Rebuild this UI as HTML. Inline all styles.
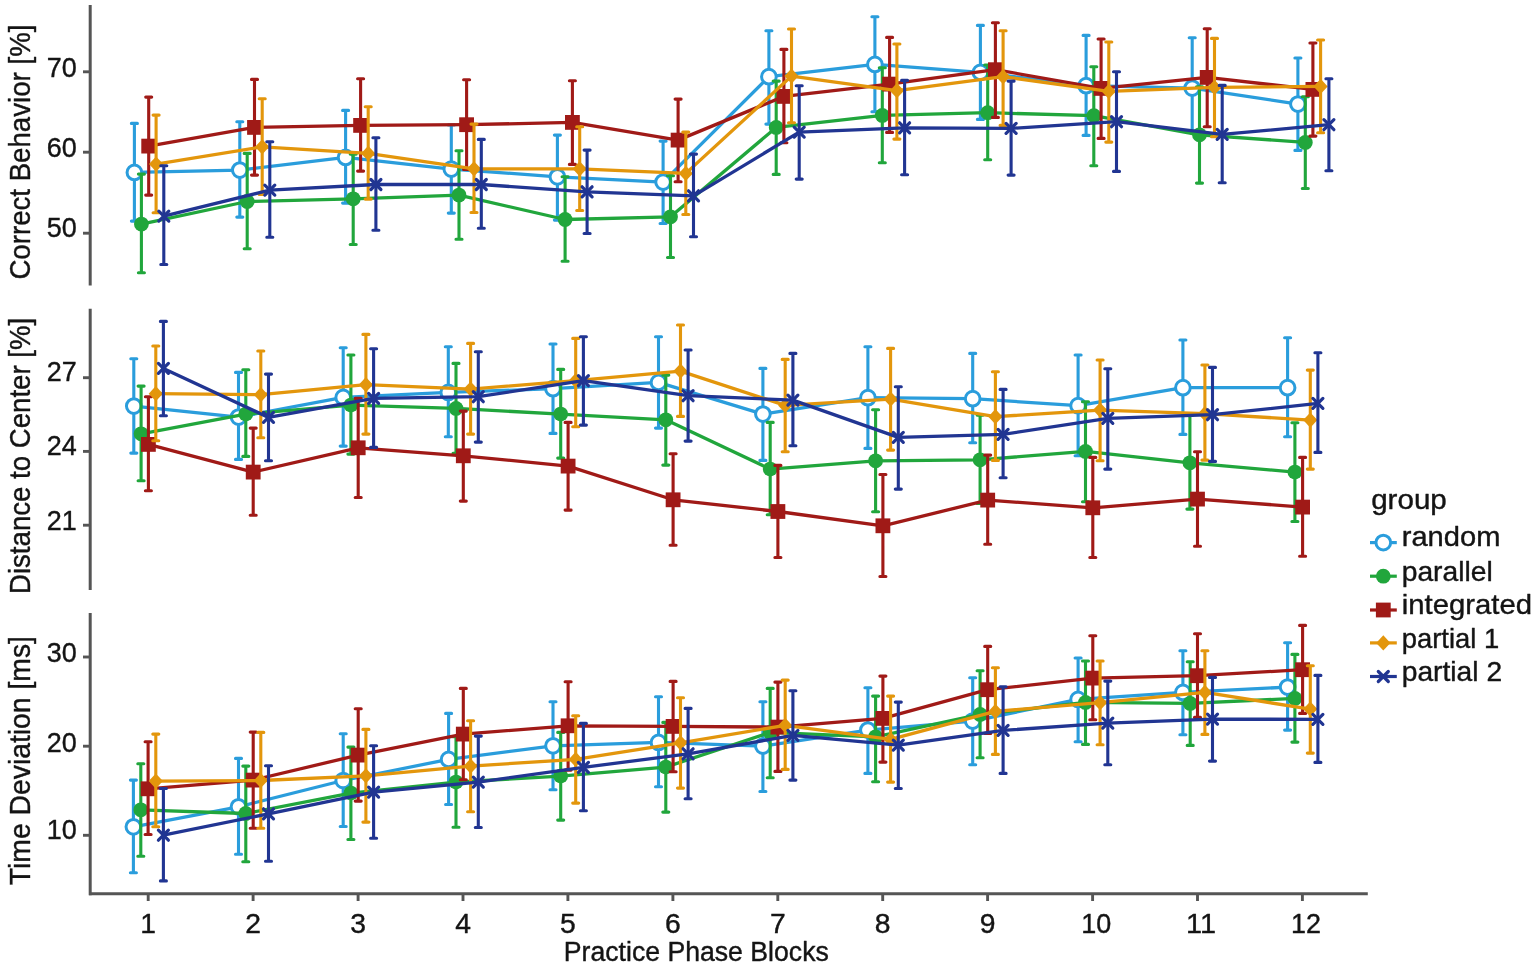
<!DOCTYPE html>
<html lang="en"><head><meta charset="utf-8"><title>Practice Phase Blocks</title>
<style>html,body{margin:0;padding:0;background:#fff}svg{display:block}</style>
</head><body>
<svg width="1535" height="967" viewBox="0 0 1535 967" font-family="'Liberation Sans', sans-serif" fill="#141414">
<style>text{stroke:#141414;stroke-width:0.4px;stroke-linejoin:round}</style>
<rect width="1535" height="967" fill="#fff"/>
<g stroke="#555555" stroke-width="3" fill="none">
<path d="M90.2 5V285.5"/>
<path d="M90.2 308.8V590"/>
<path d="M90.2 613V895.3"/>
<path d="M89 893.8H1367.8"/>
</g>
<g stroke="#555555" stroke-width="2.9" fill="none">
<path d="M83 71.8H90"/>
<path d="M83 152.2H90"/>
<path d="M83 233.2H90"/>
<path d="M83 377.7H90"/>
<path d="M83 451.4H90"/>
<path d="M83 525.2H90"/>
<path d="M83 657.0H90"/>
<path d="M83 746.2H90"/>
<path d="M83 835.3H90"/>
<path d="M148.2 894V901"/>
<path d="M253.1 894V901"/>
<path d="M358.1 894V901"/>
<path d="M463.0 894V901"/>
<path d="M567.9 894V901"/>
<path d="M672.9 894V901"/>
<path d="M777.8 894V901"/>
<path d="M882.7 894V901"/>
<path d="M987.6 894V901"/>
<path d="M1092.6 894V901"/>
<path d="M1197.5 894V901"/>
<path d="M1302.4 894V901"/>
</g>
<g font-size="28.3">
<text x="76.8" y="76.6" text-anchor="end" textLength="30" lengthAdjust="spacingAndGlyphs">70</text>
<text x="76.8" y="157.3" text-anchor="end" textLength="30" lengthAdjust="spacingAndGlyphs">60</text>
<text x="76.8" y="237.1" text-anchor="end" textLength="30" lengthAdjust="spacingAndGlyphs">50</text>
<text x="76.8" y="381.4" text-anchor="end" textLength="30" lengthAdjust="spacingAndGlyphs">27</text>
<text x="76.8" y="455.4" text-anchor="end" textLength="30" lengthAdjust="spacingAndGlyphs">24</text>
<text x="76.8" y="529.6" text-anchor="end" textLength="30" lengthAdjust="spacingAndGlyphs">21</text>
<text x="76.8" y="662.0" text-anchor="end" textLength="30" lengthAdjust="spacingAndGlyphs">30</text>
<text x="76.8" y="752.1" text-anchor="end" textLength="30" lengthAdjust="spacingAndGlyphs">20</text>
<text x="76.8" y="838.8" text-anchor="end" textLength="30" lengthAdjust="spacingAndGlyphs">10</text>
<text x="148.2" y="932.6" text-anchor="middle">1</text>
<text x="253.1" y="932.6" text-anchor="middle">2</text>
<text x="358.1" y="932.6" text-anchor="middle">3</text>
<text x="463.0" y="932.6" text-anchor="middle">4</text>
<text x="567.9" y="932.6" text-anchor="middle">5</text>
<text x="672.9" y="932.6" text-anchor="middle">6</text>
<text x="777.8" y="932.6" text-anchor="middle">7</text>
<text x="882.7" y="932.6" text-anchor="middle">8</text>
<text x="987.6" y="932.6" text-anchor="middle">9</text>
<text x="1096.2" y="932.6" text-anchor="middle" textLength="30" lengthAdjust="spacingAndGlyphs">10</text>
<text x="1201.1" y="932.6" text-anchor="middle" textLength="30" lengthAdjust="spacingAndGlyphs">11</text>
<text x="1306.0" y="932.6" text-anchor="middle" textLength="30" lengthAdjust="spacingAndGlyphs">12</text>
</g>
<text transform="translate(29.6 279.6) rotate(-90)" font-size="30" textLength="255.0" lengthAdjust="spacingAndGlyphs">Correct Behavior [%]</text>
<text transform="translate(29.6 594.0) rotate(-90)" font-size="30" textLength="276.2" lengthAdjust="spacingAndGlyphs">Distance to Center [%]</text>
<text transform="translate(29.6 885.2) rotate(-90)" font-size="30" textLength="249.1" lengthAdjust="spacingAndGlyphs">Time Deviation [ms]</text>
<text x="563.8" y="960.8" font-size="26.8" textLength="265" lengthAdjust="spacingAndGlyphs">Practice Phase Blocks</text>
<path d="M134.4 123.4V221.1M131.4 123.4h6.0M131.4 221.1h6.0M239.8 121.7V217.1M236.8 121.7h6.0M236.8 217.1h6.0M345.6 110.4V203.1M342.6 110.4h6.0M342.6 203.1h6.0M451.3 125.0V213.1M448.3 125.0h6.0M448.3 213.1h6.0M557.4 135.1V220.1M554.4 135.1h6.0M554.4 220.1h6.0M663.1 141.1V223.5M660.1 141.1h6.0M660.1 223.5h6.0M768.9 30.7V124.1M765.9 30.7h6.0M765.9 124.1h6.0M874.9 16.7V111.7M871.9 16.7h6.0M871.9 111.7h6.0M980.4 25.4V119.4M977.4 25.4h6.0M977.4 119.4h6.0M1086.1 35.4V135.4M1083.1 35.4h6.0M1083.1 135.4h6.0M1192.2 37.7V131.8M1189.2 37.7h6.0M1189.2 131.8h6.0M1297.9 58.0V150.4M1294.9 58.0h6.0M1294.9 150.4h6.0" stroke="#2A9DDC" stroke-width="3.1" stroke-linecap="round" fill="none"/>
<polyline points="134.4,172.4 239.8,170.1 345.6,157.4 451.3,169.1 557.4,176.8 663.1,182.1 768.9,76.7 874.9,64.4 980.4,72.4 1086.1,85.7 1192.2,88.1 1297.9,104.1" stroke="#2A9DDC" stroke-width="3.3" stroke-linejoin="round" fill="none"/>
<circle cx="134.4" cy="172.4" r="7.35" fill="#fff" stroke="#2A9DDC" stroke-width="3.0"/>
<circle cx="239.8" cy="170.1" r="7.35" fill="#fff" stroke="#2A9DDC" stroke-width="3.0"/>
<circle cx="345.6" cy="157.4" r="7.35" fill="#fff" stroke="#2A9DDC" stroke-width="3.0"/>
<circle cx="451.3" cy="169.1" r="7.35" fill="#fff" stroke="#2A9DDC" stroke-width="3.0"/>
<circle cx="557.4" cy="176.8" r="7.35" fill="#fff" stroke="#2A9DDC" stroke-width="3.0"/>
<circle cx="663.1" cy="182.1" r="7.35" fill="#fff" stroke="#2A9DDC" stroke-width="3.0"/>
<circle cx="768.9" cy="76.7" r="7.35" fill="#fff" stroke="#2A9DDC" stroke-width="3.0"/>
<circle cx="874.9" cy="64.4" r="7.35" fill="#fff" stroke="#2A9DDC" stroke-width="3.0"/>
<circle cx="980.4" cy="72.4" r="7.35" fill="#fff" stroke="#2A9DDC" stroke-width="3.0"/>
<circle cx="1086.1" cy="85.7" r="7.35" fill="#fff" stroke="#2A9DDC" stroke-width="3.0"/>
<circle cx="1192.2" cy="88.1" r="7.35" fill="#fff" stroke="#2A9DDC" stroke-width="3.0"/>
<circle cx="1297.9" cy="104.1" r="7.35" fill="#fff" stroke="#2A9DDC" stroke-width="3.0"/>
<path d="M141.4 174.1V272.8M138.4 174.1h6.0M138.4 272.8h6.0M247.2 153.4V248.8M244.2 153.4h6.0M244.2 248.8h6.0M353.2 154.1V244.5M350.2 154.1h6.0M350.2 244.5h6.0M459.0 150.8V239.2M456.0 150.8h6.0M456.0 239.2h6.0M565.1 176.8V261.2M562.1 176.8h6.0M562.1 261.2h6.0M670.5 175.8V257.5M667.5 175.8h6.0M667.5 257.5h6.0M776.2 81.1V174.4M773.2 81.1h6.0M773.2 174.4h6.0M882.3 67.7V162.8M879.3 67.7h6.0M879.3 162.8h6.0M987.7 65.0V159.8M984.7 65.0h6.0M984.7 159.8h6.0M1093.8 66.7V165.8M1090.8 66.7h6.0M1090.8 165.8h6.0M1199.5 86.7V183.1M1196.5 86.7h6.0M1196.5 183.1h6.0M1305.3 96.7V188.5M1302.3 96.7h6.0M1302.3 188.5h6.0" stroke="#21A63C" stroke-width="3.1" stroke-linecap="round" fill="none"/>
<polyline points="141.4,224.1 247.2,201.5 353.2,198.8 459.0,195.1 565.1,219.5 670.5,216.8 776.2,127.4 882.3,115.4 987.7,112.7 1093.8,115.7 1199.5,134.8 1305.3,142.4" stroke="#21A63C" stroke-width="3.3" stroke-linejoin="round" fill="none"/>
<circle cx="141.4" cy="224.1" r="7.4" fill="#21A63C"/>
<circle cx="247.2" cy="201.5" r="7.4" fill="#21A63C"/>
<circle cx="353.2" cy="198.8" r="7.4" fill="#21A63C"/>
<circle cx="459.0" cy="195.1" r="7.4" fill="#21A63C"/>
<circle cx="565.1" cy="219.5" r="7.4" fill="#21A63C"/>
<circle cx="670.5" cy="216.8" r="7.4" fill="#21A63C"/>
<circle cx="776.2" cy="127.4" r="7.4" fill="#21A63C"/>
<circle cx="882.3" cy="115.4" r="7.4" fill="#21A63C"/>
<circle cx="987.7" cy="112.7" r="7.4" fill="#21A63C"/>
<circle cx="1093.8" cy="115.7" r="7.4" fill="#21A63C"/>
<circle cx="1199.5" cy="134.8" r="7.4" fill="#21A63C"/>
<circle cx="1305.3" cy="142.4" r="7.4" fill="#21A63C"/>
<path d="M148.7 97.1V195.1M145.7 97.1h6.0M145.7 195.1h6.0M254.5 79.4V175.1M251.5 79.4h6.0M251.5 175.1h6.0M360.6 78.7V171.1M357.6 78.7h6.0M357.6 171.1h6.0M466.6 79.7V169.4M463.6 79.7h6.0M463.6 169.4h6.0M572.4 80.7V164.4M569.4 80.7h6.0M569.4 164.4h6.0M678.1 99.1V181.8M675.1 99.1h6.0M675.1 181.8h6.0M783.9 49.4V142.8M780.9 49.4h6.0M780.9 142.8h6.0M889.6 37.4V132.4M886.6 37.4h6.0M886.6 132.4h6.0M995.4 22.7V117.4M992.4 22.7h6.0M992.4 117.4h6.0M1101.1 39.0V138.4M1098.1 39.0h6.0M1098.1 138.4h6.0M1207.2 28.7V126.8M1204.2 28.7h6.0M1204.2 126.8h6.0M1312.9 43.0V136.1M1309.9 43.0h6.0M1309.9 136.1h6.0" stroke="#A01A17" stroke-width="3.1" stroke-linecap="round" fill="none"/>
<polyline points="148.7,146.1 254.5,127.4 360.6,125.4 466.6,124.7 572.4,122.4 678.1,140.1 783.9,96.4 889.6,84.1 995.4,69.7 1101.1,88.4 1207.2,77.4 1312.9,89.4" stroke="#A01A17" stroke-width="3.3" stroke-linejoin="round" fill="none"/>
<rect x="141.3" y="138.7" width="14.8" height="14.8" fill="#A01A17"/>
<rect x="247.1" y="120.0" width="14.8" height="14.8" fill="#A01A17"/>
<rect x="353.2" y="118.0" width="14.8" height="14.8" fill="#A01A17"/>
<rect x="459.2" y="117.3" width="14.8" height="14.8" fill="#A01A17"/>
<rect x="565.0" y="115.0" width="14.8" height="14.8" fill="#A01A17"/>
<rect x="670.7" y="132.7" width="14.8" height="14.8" fill="#A01A17"/>
<rect x="776.5" y="89.0" width="14.8" height="14.8" fill="#A01A17"/>
<rect x="882.2" y="76.7" width="14.8" height="14.8" fill="#A01A17"/>
<rect x="988.0" y="62.3" width="14.8" height="14.8" fill="#A01A17"/>
<rect x="1093.7" y="81.0" width="14.8" height="14.8" fill="#A01A17"/>
<rect x="1199.8" y="70.0" width="14.8" height="14.8" fill="#A01A17"/>
<rect x="1305.5" y="82.0" width="14.8" height="14.8" fill="#A01A17"/>
<path d="M156.1 115.1V212.8M153.1 115.1h6.0M153.1 212.8h6.0M262.2 98.7V194.5M259.2 98.7h6.0M259.2 194.5h6.0M368.2 106.7V199.1M365.2 106.7h6.0M365.2 199.1h6.0M474.0 124.1V212.5M471.0 124.1h6.0M471.0 212.5h6.0M579.7 126.8V210.5M576.7 126.8h6.0M576.7 210.5h6.0M685.8 132.1V214.5M682.8 132.1h6.0M682.8 214.5h6.0M791.5 29.0V122.7M788.5 29.0h6.0M788.5 122.7h6.0M896.9 44.0V139.1M893.9 44.0h6.0M893.9 139.1h6.0M1003.1 30.7V125.4M1000.1 30.7h6.0M1000.1 125.4h6.0M1108.8 42.0V142.1M1105.8 42.0h6.0M1105.8 142.1h6.0M1214.5 38.4V136.8M1211.5 38.4h6.0M1211.5 136.8h6.0M1320.6 40.0V132.8M1317.6 40.0h6.0M1317.6 132.8h6.0" stroke="#E3960C" stroke-width="3.1" stroke-linecap="round" fill="none"/>
<polyline points="156.1,164.1 262.2,146.8 368.2,153.4 474.0,168.8 579.7,168.8 685.8,173.4 791.5,76.1 896.9,90.7 1003.1,76.7 1108.8,91.4 1214.5,87.4 1320.6,86.4" stroke="#E3960C" stroke-width="3.3" stroke-linejoin="round" fill="none"/>
<path d="M156.1 156.5L163.2 164.1L156.1 171.7L149.0 164.1Z" fill="#E3960C"/>
<path d="M262.2 139.2L269.3 146.8L262.2 154.4L255.1 146.8Z" fill="#E3960C"/>
<path d="M368.2 145.8L375.3 153.4L368.2 161.0L361.1 153.4Z" fill="#E3960C"/>
<path d="M474.0 161.2L481.1 168.8L474.0 176.4L466.9 168.8Z" fill="#E3960C"/>
<path d="M579.7 161.2L586.8 168.8L579.7 176.4L572.6 168.8Z" fill="#E3960C"/>
<path d="M685.8 165.8L692.9 173.4L685.8 181.0L678.7 173.4Z" fill="#E3960C"/>
<path d="M791.5 68.5L798.6 76.1L791.5 83.7L784.4 76.1Z" fill="#E3960C"/>
<path d="M896.9 83.1L904.0 90.7L896.9 98.3L889.8 90.7Z" fill="#E3960C"/>
<path d="M1003.1 69.1L1010.2 76.7L1003.1 84.3L996.0 76.7Z" fill="#E3960C"/>
<path d="M1108.8 83.8L1115.9 91.4L1108.8 99.0L1101.7 91.4Z" fill="#E3960C"/>
<path d="M1214.5 79.8L1221.6 87.4L1214.5 95.0L1207.4 87.4Z" fill="#E3960C"/>
<path d="M1320.6 78.8L1327.7 86.4L1320.6 94.0L1313.5 86.4Z" fill="#E3960C"/>
<path d="M163.8 165.8V264.5M160.8 165.8h6.0M160.8 264.5h6.0M269.8 141.8V237.2M266.8 141.8h6.0M266.8 237.2h6.0M375.9 137.8V230.2M372.9 137.8h6.0M372.9 230.2h6.0M481.3 139.4V228.2M478.3 139.4h6.0M478.3 228.2h6.0M587.1 150.1V233.5M584.1 150.1h6.0M584.1 233.5h6.0M693.5 154.1V236.8M690.5 154.1h6.0M690.5 236.8h6.0M799.2 85.7V179.1M796.2 85.7h6.0M796.2 179.1h6.0M904.6 80.4V174.8M901.6 80.4h6.0M901.6 174.8h6.0M1011.1 81.1V175.1M1008.1 81.1h6.0M1008.1 175.1h6.0M1116.5 71.7V171.4M1113.5 71.7h6.0M1113.5 171.4h6.0M1222.2 85.4V182.8M1219.2 85.4h6.0M1219.2 182.8h6.0M1328.9 78.7V170.8M1325.9 78.7h6.0M1325.9 170.8h6.0" stroke="#213592" stroke-width="3.1" stroke-linecap="round" fill="none"/>
<polyline points="163.8,216.1 269.8,190.1 375.9,184.5 481.3,184.5 587.1,191.8 693.5,195.8 799.2,132.1 904.6,127.8 1011.1,128.4 1116.5,121.7 1222.2,134.4 1328.9,124.7" stroke="#213592" stroke-width="3.3" stroke-linejoin="round" fill="none"/>
<path d="M158.8 211.1L168.8 221.1M158.8 221.1L168.8 211.1" stroke="#213592" stroke-width="3.2" stroke-linecap="round" fill="none"/>
<path d="M264.8 185.1L274.8 195.1M264.8 195.1L274.8 185.1" stroke="#213592" stroke-width="3.2" stroke-linecap="round" fill="none"/>
<path d="M370.9 179.5L380.9 189.5M370.9 189.5L380.9 179.5" stroke="#213592" stroke-width="3.2" stroke-linecap="round" fill="none"/>
<path d="M476.3 179.5L486.3 189.5M476.3 189.5L486.3 179.5" stroke="#213592" stroke-width="3.2" stroke-linecap="round" fill="none"/>
<path d="M582.1 186.8L592.1 196.8M582.1 196.8L592.1 186.8" stroke="#213592" stroke-width="3.2" stroke-linecap="round" fill="none"/>
<path d="M688.5 190.8L698.5 200.8M688.5 200.8L698.5 190.8" stroke="#213592" stroke-width="3.2" stroke-linecap="round" fill="none"/>
<path d="M794.2 127.1L804.2 137.1M794.2 137.1L804.2 127.1" stroke="#213592" stroke-width="3.2" stroke-linecap="round" fill="none"/>
<path d="M899.6 122.8L909.6 132.8M899.6 132.8L909.6 122.8" stroke="#213592" stroke-width="3.2" stroke-linecap="round" fill="none"/>
<path d="M1006.1 123.4L1016.1 133.4M1006.1 133.4L1016.1 123.4" stroke="#213592" stroke-width="3.2" stroke-linecap="round" fill="none"/>
<path d="M1111.5 116.7L1121.5 126.7M1111.5 126.7L1121.5 116.7" stroke="#213592" stroke-width="3.2" stroke-linecap="round" fill="none"/>
<path d="M1217.2 129.4L1227.2 139.4M1217.2 139.4L1227.2 129.4" stroke="#213592" stroke-width="3.2" stroke-linecap="round" fill="none"/>
<path d="M1323.9 119.7L1333.9 129.7M1323.9 129.7L1333.9 119.7" stroke="#213592" stroke-width="3.2" stroke-linecap="round" fill="none"/>
<path d="M133.8 358.7V453.1M130.8 358.7h6.0M130.8 453.1h6.0M238.5 372.4V459.4M235.5 372.4h6.0M235.5 459.4h6.0M343.2 347.7V446.1M340.2 347.7h6.0M340.2 446.1h6.0M448.3 346.7V436.8M445.3 346.7h6.0M445.3 436.8h6.0M553.0 344.0V433.4M550.0 344.0h6.0M550.0 433.4h6.0M658.5 336.7V428.1M655.5 336.7h6.0M655.5 428.1h6.0M762.9 368.4V460.4M759.9 368.4h6.0M759.9 460.4h6.0M867.9 346.7V448.4M864.9 346.7h6.0M864.9 448.4h6.0M972.7 353.4V442.8M969.7 353.4h6.0M969.7 442.8h6.0M1078.1 355.0V455.8M1075.1 355.0h6.0M1075.1 455.8h6.0M1182.9 340.0V434.4M1179.9 340.0h6.0M1179.9 434.4h6.0M1287.6 337.7V436.8M1284.6 337.7h6.0M1284.6 436.8h6.0" stroke="#2A9DDC" stroke-width="3.1" stroke-linecap="round" fill="none"/>
<polyline points="133.8,406.1 238.5,417.1 343.2,397.4 448.3,392.4 553.0,388.7 658.5,382.4 762.9,414.1 867.9,397.7 972.7,398.7 1078.1,405.7 1182.9,387.7 1287.6,387.7" stroke="#2A9DDC" stroke-width="3.3" stroke-linejoin="round" fill="none"/>
<circle cx="133.8" cy="406.1" r="7.35" fill="#fff" stroke="#2A9DDC" stroke-width="3.0"/>
<circle cx="238.5" cy="417.1" r="7.35" fill="#fff" stroke="#2A9DDC" stroke-width="3.0"/>
<circle cx="343.2" cy="397.4" r="7.35" fill="#fff" stroke="#2A9DDC" stroke-width="3.0"/>
<circle cx="448.3" cy="392.4" r="7.35" fill="#fff" stroke="#2A9DDC" stroke-width="3.0"/>
<circle cx="553.0" cy="388.7" r="7.35" fill="#fff" stroke="#2A9DDC" stroke-width="3.0"/>
<circle cx="658.5" cy="382.4" r="7.35" fill="#fff" stroke="#2A9DDC" stroke-width="3.0"/>
<circle cx="762.9" cy="414.1" r="7.35" fill="#fff" stroke="#2A9DDC" stroke-width="3.0"/>
<circle cx="867.9" cy="397.7" r="7.35" fill="#fff" stroke="#2A9DDC" stroke-width="3.0"/>
<circle cx="972.7" cy="398.7" r="7.35" fill="#fff" stroke="#2A9DDC" stroke-width="3.0"/>
<circle cx="1078.1" cy="405.7" r="7.35" fill="#fff" stroke="#2A9DDC" stroke-width="3.0"/>
<circle cx="1182.9" cy="387.7" r="7.35" fill="#fff" stroke="#2A9DDC" stroke-width="3.0"/>
<circle cx="1287.6" cy="387.7" r="7.35" fill="#fff" stroke="#2A9DDC" stroke-width="3.0"/>
<path d="M141.1 386.1V480.8M138.1 386.1h6.0M138.1 480.8h6.0M245.8 369.7V456.4M242.8 369.7h6.0M242.8 456.4h6.0M350.9 355.0V454.1M347.9 355.0h6.0M347.9 454.1h6.0M456.0 363.4V453.4M453.0 363.4h6.0M453.0 453.4h6.0M560.7 369.4V458.1M557.7 369.4h6.0M557.7 458.1h6.0M665.8 375.1V465.1M662.8 375.1h6.0M662.8 465.1h6.0M770.2 422.4V514.8M767.2 422.4h6.0M767.2 514.8h6.0M875.6 409.7V511.8M872.6 409.7h6.0M872.6 511.8h6.0M980.1 415.1V503.5M977.1 415.1h6.0M977.1 503.5h6.0M1085.5 401.7V501.8M1082.5 401.7h6.0M1082.5 501.8h6.0M1189.9 415.1V509.1M1186.9 415.1h6.0M1186.9 509.1h6.0M1294.9 422.8V521.5M1291.9 422.8h6.0M1291.9 521.5h6.0" stroke="#21A63C" stroke-width="3.1" stroke-linecap="round" fill="none"/>
<polyline points="141.1,433.8 245.8,414.1 350.9,405.1 456.0,408.4 560.7,414.1 665.8,419.8 770.2,469.1 875.6,460.8 980.1,459.8 1085.5,451.4 1189.9,462.8 1294.9,472.1" stroke="#21A63C" stroke-width="3.3" stroke-linejoin="round" fill="none"/>
<circle cx="141.1" cy="433.8" r="7.4" fill="#21A63C"/>
<circle cx="245.8" cy="414.1" r="7.4" fill="#21A63C"/>
<circle cx="350.9" cy="405.1" r="7.4" fill="#21A63C"/>
<circle cx="456.0" cy="408.4" r="7.4" fill="#21A63C"/>
<circle cx="560.7" cy="414.1" r="7.4" fill="#21A63C"/>
<circle cx="665.8" cy="419.8" r="7.4" fill="#21A63C"/>
<circle cx="770.2" cy="469.1" r="7.4" fill="#21A63C"/>
<circle cx="875.6" cy="460.8" r="7.4" fill="#21A63C"/>
<circle cx="980.1" cy="459.8" r="7.4" fill="#21A63C"/>
<circle cx="1085.5" cy="451.4" r="7.4" fill="#21A63C"/>
<circle cx="1189.9" cy="462.8" r="7.4" fill="#21A63C"/>
<circle cx="1294.9" cy="472.1" r="7.4" fill="#21A63C"/>
<path d="M148.4 396.7V490.8M145.4 396.7h6.0M145.4 490.8h6.0M253.2 428.1V515.2M250.2 428.1h6.0M250.2 515.2h6.0M358.2 398.4V497.5M355.2 398.4h6.0M355.2 497.5h6.0M463.3 411.1V501.1M460.3 411.1h6.0M460.3 501.1h6.0M568.1 422.4V510.1M565.1 422.4h6.0M565.1 510.1h6.0M673.1 453.8V545.2M670.1 453.8h6.0M670.1 545.2h6.0M777.9 465.4V557.5M774.9 465.4h6.0M774.9 557.5h6.0M882.9 474.5V576.5M879.9 474.5h6.0M879.9 576.5h6.0M987.7 455.1V544.2M984.7 455.1h6.0M984.7 544.2h6.0M1092.8 457.4V557.5M1089.8 457.4h6.0M1089.8 557.5h6.0M1197.5 451.8V546.2M1194.5 451.8h6.0M1194.5 546.2h6.0M1302.6 457.4V556.2M1299.6 457.4h6.0M1299.6 556.2h6.0" stroke="#A01A17" stroke-width="3.1" stroke-linecap="round" fill="none"/>
<polyline points="148.4,444.4 253.2,472.1 358.2,447.8 463.3,455.8 568.1,466.1 673.1,499.8 777.9,511.5 882.9,525.8 987.7,500.1 1092.8,507.8 1197.5,499.1 1302.6,507.1" stroke="#A01A17" stroke-width="3.3" stroke-linejoin="round" fill="none"/>
<rect x="141.0" y="437.0" width="14.8" height="14.8" fill="#A01A17"/>
<rect x="245.8" y="464.7" width="14.8" height="14.8" fill="#A01A17"/>
<rect x="350.8" y="440.4" width="14.8" height="14.8" fill="#A01A17"/>
<rect x="455.9" y="448.4" width="14.8" height="14.8" fill="#A01A17"/>
<rect x="560.7" y="458.7" width="14.8" height="14.8" fill="#A01A17"/>
<rect x="665.7" y="492.4" width="14.8" height="14.8" fill="#A01A17"/>
<rect x="770.5" y="504.1" width="14.8" height="14.8" fill="#A01A17"/>
<rect x="875.5" y="518.4" width="14.8" height="14.8" fill="#A01A17"/>
<rect x="980.3" y="492.7" width="14.8" height="14.8" fill="#A01A17"/>
<rect x="1085.4" y="500.4" width="14.8" height="14.8" fill="#A01A17"/>
<rect x="1190.1" y="491.7" width="14.8" height="14.8" fill="#A01A17"/>
<rect x="1295.2" y="499.7" width="14.8" height="14.8" fill="#A01A17"/>
<path d="M155.8 346.0V440.8M152.8 346.0h6.0M152.8 440.8h6.0M260.8 351.0V437.8M257.8 351.0h6.0M257.8 437.8h6.0M365.9 334.4V434.1M362.9 334.4h6.0M362.9 434.1h6.0M470.6 343.4V434.1M467.6 343.4h6.0M467.6 434.1h6.0M575.7 338.4V426.8M572.7 338.4h6.0M572.7 426.8h6.0M680.5 325.0V416.4M677.5 325.0h6.0M677.5 416.4h6.0M785.2 359.4V451.8M782.2 359.4h6.0M782.2 451.8h6.0M890.6 348.4V450.1M887.6 348.4h6.0M887.6 450.1h6.0M995.4 371.7V460.4M992.4 371.7h6.0M992.4 460.4h6.0M1100.1 360.0V460.8M1097.1 360.0h6.0M1097.1 460.8h6.0M1204.9 365.0V460.1M1201.9 365.0h6.0M1201.9 460.1h6.0M1310.3 370.1V469.1M1307.3 370.1h6.0M1307.3 469.1h6.0" stroke="#E3960C" stroke-width="3.1" stroke-linecap="round" fill="none"/>
<polyline points="155.8,393.7 260.8,394.7 365.9,384.7 470.6,389.1 575.7,380.7 680.5,371.1 785.2,405.4 890.6,399.1 995.4,416.7 1100.1,410.1 1204.9,413.7 1310.3,420.1" stroke="#E3960C" stroke-width="3.3" stroke-linejoin="round" fill="none"/>
<path d="M155.8 386.1L162.9 393.7L155.8 401.3L148.7 393.7Z" fill="#E3960C"/>
<path d="M260.8 387.1L267.9 394.7L260.8 402.3L253.7 394.7Z" fill="#E3960C"/>
<path d="M365.9 377.1L373.0 384.7L365.9 392.3L358.8 384.7Z" fill="#E3960C"/>
<path d="M470.6 381.5L477.7 389.1L470.6 396.7L463.5 389.1Z" fill="#E3960C"/>
<path d="M575.7 373.1L582.8 380.7L575.7 388.3L568.6 380.7Z" fill="#E3960C"/>
<path d="M680.5 363.5L687.6 371.1L680.5 378.7L673.4 371.1Z" fill="#E3960C"/>
<path d="M785.2 397.8L792.3 405.4L785.2 413.0L778.1 405.4Z" fill="#E3960C"/>
<path d="M890.6 391.5L897.7 399.1L890.6 406.7L883.5 399.1Z" fill="#E3960C"/>
<path d="M995.4 409.1L1002.5 416.7L995.4 424.3L988.3 416.7Z" fill="#E3960C"/>
<path d="M1100.1 402.5L1107.2 410.1L1100.1 417.7L1093.0 410.1Z" fill="#E3960C"/>
<path d="M1204.9 406.1L1212.0 413.7L1204.9 421.3L1197.8 413.7Z" fill="#E3960C"/>
<path d="M1310.3 412.5L1317.4 420.1L1310.3 427.7L1303.2 420.1Z" fill="#E3960C"/>
<path d="M163.4 321.4V415.8M160.4 321.4h6.0M160.4 415.8h6.0M268.5 374.1V460.8M265.5 374.1h6.0M265.5 460.8h6.0M373.6 348.7V447.4M370.6 348.7h6.0M370.6 447.4h6.0M478.3 351.7V442.1M475.3 351.7h6.0M475.3 442.1h6.0M583.4 336.7V425.1M580.4 336.7h6.0M580.4 425.1h6.0M688.1 350.0V441.1M685.1 350.0h6.0M685.1 441.1h6.0M792.9 353.4V445.8M789.9 353.4h6.0M789.9 445.8h6.0M898.3 386.7V489.1M895.3 386.7h6.0M895.3 489.1h6.0M1003.1 389.4V477.8M1000.1 389.4h6.0M1000.1 477.8h6.0M1107.8 368.7V469.1M1104.8 368.7h6.0M1104.8 469.1h6.0M1212.5 367.4V461.4M1209.5 367.4h6.0M1209.5 461.4h6.0M1317.9 352.7V452.4M1314.9 352.7h6.0M1314.9 452.4h6.0" stroke="#213592" stroke-width="3.1" stroke-linecap="round" fill="none"/>
<polyline points="163.4,368.4 268.5,417.4 373.6,398.4 478.3,396.7 583.4,380.7 688.1,395.7 792.9,400.1 898.3,437.4 1003.1,434.4 1107.8,418.4 1212.5,414.7 1317.9,403.4" stroke="#213592" stroke-width="3.3" stroke-linejoin="round" fill="none"/>
<path d="M158.4 363.4L168.4 373.4M158.4 373.4L168.4 363.4" stroke="#213592" stroke-width="3.2" stroke-linecap="round" fill="none"/>
<path d="M263.5 412.4L273.5 422.4M263.5 422.4L273.5 412.4" stroke="#213592" stroke-width="3.2" stroke-linecap="round" fill="none"/>
<path d="M368.6 393.4L378.6 403.4M368.6 403.4L378.6 393.4" stroke="#213592" stroke-width="3.2" stroke-linecap="round" fill="none"/>
<path d="M473.3 391.7L483.3 401.7M473.3 401.7L483.3 391.7" stroke="#213592" stroke-width="3.2" stroke-linecap="round" fill="none"/>
<path d="M578.4 375.7L588.4 385.7M578.4 385.7L588.4 375.7" stroke="#213592" stroke-width="3.2" stroke-linecap="round" fill="none"/>
<path d="M683.1 390.7L693.1 400.7M683.1 400.7L693.1 390.7" stroke="#213592" stroke-width="3.2" stroke-linecap="round" fill="none"/>
<path d="M787.9 395.1L797.9 405.1M787.9 405.1L797.9 395.1" stroke="#213592" stroke-width="3.2" stroke-linecap="round" fill="none"/>
<path d="M893.3 432.4L903.3 442.4M893.3 442.4L903.3 432.4" stroke="#213592" stroke-width="3.2" stroke-linecap="round" fill="none"/>
<path d="M998.1 429.4L1008.1 439.4M998.1 439.4L1008.1 429.4" stroke="#213592" stroke-width="3.2" stroke-linecap="round" fill="none"/>
<path d="M1102.8 413.4L1112.8 423.4M1102.8 423.4L1112.8 413.4" stroke="#213592" stroke-width="3.2" stroke-linecap="round" fill="none"/>
<path d="M1207.5 409.7L1217.5 419.7M1207.5 419.7L1217.5 409.7" stroke="#213592" stroke-width="3.2" stroke-linecap="round" fill="none"/>
<path d="M1312.9 398.4L1322.9 408.4M1312.9 408.4L1322.9 398.4" stroke="#213592" stroke-width="3.2" stroke-linecap="round" fill="none"/>
<path d="M133.4 780.1V872.8M130.4 780.1h6.0M130.4 872.8h6.0M238.5 758.4V854.2M235.5 758.4h6.0M235.5 854.2h6.0M343.2 733.8V826.5M340.2 733.8h6.0M340.2 826.5h6.0M448.6 713.4V804.5M445.6 713.4h6.0M445.6 804.5h6.0M553.0 701.7V789.8M550.0 701.7h6.0M550.0 789.8h6.0M658.5 696.7V786.8M655.5 696.7h6.0M655.5 786.8h6.0M762.9 701.7V791.5M759.9 701.7h6.0M759.9 791.5h6.0M867.9 687.7V773.4M864.9 687.7h6.0M864.9 773.4h6.0M972.7 677.7V764.8M969.7 677.7h6.0M969.7 764.8h6.0M1078.1 658.0V741.8M1075.1 658.0h6.0M1075.1 741.8h6.0M1182.9 650.7V734.8M1179.9 650.7h6.0M1179.9 734.8h6.0M1287.6 642.7V730.1M1284.6 642.7h6.0M1284.6 730.1h6.0" stroke="#2A9DDC" stroke-width="3.1" stroke-linecap="round" fill="none"/>
<polyline points="133.4,826.8 238.5,806.8 343.2,780.5 448.6,759.4 553.0,745.8 658.5,742.4 762.9,746.1 867.9,730.1 972.7,721.1 1078.1,699.4 1182.9,692.4 1287.6,687.1" stroke="#2A9DDC" stroke-width="3.3" stroke-linejoin="round" fill="none"/>
<circle cx="133.4" cy="826.8" r="7.35" fill="#fff" stroke="#2A9DDC" stroke-width="3.0"/>
<circle cx="238.5" cy="806.8" r="7.35" fill="#fff" stroke="#2A9DDC" stroke-width="3.0"/>
<circle cx="343.2" cy="780.5" r="7.35" fill="#fff" stroke="#2A9DDC" stroke-width="3.0"/>
<circle cx="448.6" cy="759.4" r="7.35" fill="#fff" stroke="#2A9DDC" stroke-width="3.0"/>
<circle cx="553.0" cy="745.8" r="7.35" fill="#fff" stroke="#2A9DDC" stroke-width="3.0"/>
<circle cx="658.5" cy="742.4" r="7.35" fill="#fff" stroke="#2A9DDC" stroke-width="3.0"/>
<circle cx="762.9" cy="746.1" r="7.35" fill="#fff" stroke="#2A9DDC" stroke-width="3.0"/>
<circle cx="867.9" cy="730.1" r="7.35" fill="#fff" stroke="#2A9DDC" stroke-width="3.0"/>
<circle cx="972.7" cy="721.1" r="7.35" fill="#fff" stroke="#2A9DDC" stroke-width="3.0"/>
<circle cx="1078.1" cy="699.4" r="7.35" fill="#fff" stroke="#2A9DDC" stroke-width="3.0"/>
<circle cx="1182.9" cy="692.4" r="7.35" fill="#fff" stroke="#2A9DDC" stroke-width="3.0"/>
<circle cx="1287.6" cy="687.1" r="7.35" fill="#fff" stroke="#2A9DDC" stroke-width="3.0"/>
<path d="M140.8 763.8V856.2M137.8 763.8h6.0M137.8 856.2h6.0M245.8 766.1V861.8M242.8 766.1h6.0M242.8 861.8h6.0M350.9 747.1V839.5M347.9 747.1h6.0M347.9 839.5h6.0M456.0 736.8V827.2M453.0 736.8h6.0M453.0 827.2h6.0M560.7 732.4V820.1M557.7 732.4h6.0M557.7 820.1h6.0M665.8 722.4V812.1M662.8 722.4h6.0M662.8 812.1h6.0M770.2 688.4V777.8M767.2 688.4h6.0M767.2 777.8h6.0M875.6 696.1V781.8M872.6 696.1h6.0M872.6 781.8h6.0M980.1 670.7V757.8M977.1 670.7h6.0M977.1 757.8h6.0M1085.5 661.0V744.4M1082.5 661.0h6.0M1082.5 744.4h6.0M1190.2 661.7V745.4M1187.2 661.7h6.0M1187.2 745.4h6.0M1294.9 654.4V742.1M1291.9 654.4h6.0M1291.9 742.1h6.0" stroke="#21A63C" stroke-width="3.1" stroke-linecap="round" fill="none"/>
<polyline points="140.8,809.8 245.8,813.5 350.9,793.1 456.0,782.1 560.7,776.1 665.8,767.1 770.2,732.4 875.6,736.8 980.1,714.4 1085.5,702.4 1190.2,703.4 1294.9,698.4" stroke="#21A63C" stroke-width="3.3" stroke-linejoin="round" fill="none"/>
<circle cx="140.8" cy="809.8" r="7.4" fill="#21A63C"/>
<circle cx="245.8" cy="813.5" r="7.4" fill="#21A63C"/>
<circle cx="350.9" cy="793.1" r="7.4" fill="#21A63C"/>
<circle cx="456.0" cy="782.1" r="7.4" fill="#21A63C"/>
<circle cx="560.7" cy="776.1" r="7.4" fill="#21A63C"/>
<circle cx="665.8" cy="767.1" r="7.4" fill="#21A63C"/>
<circle cx="770.2" cy="732.4" r="7.4" fill="#21A63C"/>
<circle cx="875.6" cy="736.8" r="7.4" fill="#21A63C"/>
<circle cx="980.1" cy="714.4" r="7.4" fill="#21A63C"/>
<circle cx="1085.5" cy="702.4" r="7.4" fill="#21A63C"/>
<circle cx="1190.2" cy="703.4" r="7.4" fill="#21A63C"/>
<circle cx="1294.9" cy="698.4" r="7.4" fill="#21A63C"/>
<path d="M148.1 741.8V834.5M145.1 741.8h6.0M145.1 834.5h6.0M253.2 732.1V828.2M250.2 732.1h6.0M250.2 828.2h6.0M358.2 708.7V801.1M355.2 708.7h6.0M355.2 801.1h6.0M463.3 688.4V779.8M460.3 688.4h6.0M460.3 779.8h6.0M568.1 681.7V770.1M565.1 681.7h6.0M565.1 770.1h6.0M673.1 681.4V771.8M670.1 681.4h6.0M670.1 771.8h6.0M777.9 682.1V771.4M774.9 682.1h6.0M774.9 771.4h6.0M882.9 676.1V762.1M879.9 676.1h6.0M879.9 762.1h6.0M987.7 646.4V733.4M984.7 646.4h6.0M984.7 733.4h6.0M1092.8 635.7V719.7M1089.8 635.7h6.0M1089.8 719.7h6.0M1197.5 633.7V717.4M1194.5 633.7h6.0M1194.5 717.4h6.0M1302.6 625.4V713.4M1299.6 625.4h6.0M1299.6 713.4h6.0" stroke="#A01A17" stroke-width="3.1" stroke-linecap="round" fill="none"/>
<polyline points="148.1,788.8 253.2,780.1 358.2,755.1 463.3,734.1 568.1,725.8 673.1,726.4 777.9,727.1 882.9,718.4 987.7,689.7 1092.8,678.1 1197.5,675.7 1302.6,669.7" stroke="#A01A17" stroke-width="3.3" stroke-linejoin="round" fill="none"/>
<rect x="140.7" y="781.4" width="14.8" height="14.8" fill="#A01A17"/>
<rect x="245.8" y="772.7" width="14.8" height="14.8" fill="#A01A17"/>
<rect x="350.8" y="747.7" width="14.8" height="14.8" fill="#A01A17"/>
<rect x="455.9" y="726.7" width="14.8" height="14.8" fill="#A01A17"/>
<rect x="560.7" y="718.4" width="14.8" height="14.8" fill="#A01A17"/>
<rect x="665.7" y="719.0" width="14.8" height="14.8" fill="#A01A17"/>
<rect x="770.5" y="719.7" width="14.8" height="14.8" fill="#A01A17"/>
<rect x="875.5" y="711.0" width="14.8" height="14.8" fill="#A01A17"/>
<rect x="980.3" y="682.3" width="14.8" height="14.8" fill="#A01A17"/>
<rect x="1085.4" y="670.7" width="14.8" height="14.8" fill="#A01A17"/>
<rect x="1190.1" y="668.3" width="14.8" height="14.8" fill="#A01A17"/>
<rect x="1295.2" y="662.3" width="14.8" height="14.8" fill="#A01A17"/>
<path d="M155.8 734.1V826.8M152.8 734.1h6.0M152.8 826.8h6.0M260.8 732.4V828.2M257.8 732.4h6.0M257.8 828.2h6.0M365.9 729.4V822.1M362.9 729.4h6.0M362.9 822.1h6.0M470.6 720.7V811.8M467.6 720.7h6.0M467.6 811.8h6.0M575.7 715.7V803.1M572.7 715.7h6.0M572.7 803.1h6.0M680.5 697.7V788.1M677.5 697.7h6.0M677.5 788.1h6.0M785.2 680.1V769.4M782.2 680.1h6.0M782.2 769.4h6.0M890.6 696.1V782.1M887.6 696.1h6.0M887.6 782.1h6.0M995.4 667.7V754.4M992.4 667.7h6.0M992.4 754.4h6.0M1100.1 661.0V744.8M1097.1 661.0h6.0M1097.1 744.8h6.0M1204.9 650.7V734.4M1201.9 650.7h6.0M1201.9 734.4h6.0M1310.3 665.7V753.1M1307.3 665.7h6.0M1307.3 753.1h6.0" stroke="#E3960C" stroke-width="3.1" stroke-linecap="round" fill="none"/>
<polyline points="155.8,781.1 260.8,780.5 365.9,775.8 470.6,766.1 575.7,759.4 680.5,742.8 785.2,725.4 890.6,739.4 995.4,711.4 1100.1,702.7 1204.9,692.4 1310.3,709.1" stroke="#E3960C" stroke-width="3.3" stroke-linejoin="round" fill="none"/>
<path d="M155.8 773.5L162.9 781.1L155.8 788.7L148.7 781.1Z" fill="#E3960C"/>
<path d="M260.8 772.9L267.9 780.5L260.8 788.1L253.7 780.5Z" fill="#E3960C"/>
<path d="M365.9 768.2L373.0 775.8L365.9 783.4L358.8 775.8Z" fill="#E3960C"/>
<path d="M470.6 758.5L477.7 766.1L470.6 773.7L463.5 766.1Z" fill="#E3960C"/>
<path d="M575.7 751.8L582.8 759.4L575.7 767.0L568.6 759.4Z" fill="#E3960C"/>
<path d="M680.5 735.2L687.6 742.8L680.5 750.4L673.4 742.8Z" fill="#E3960C"/>
<path d="M785.2 717.8L792.3 725.4L785.2 733.0L778.1 725.4Z" fill="#E3960C"/>
<path d="M890.6 731.8L897.7 739.4L890.6 747.0L883.5 739.4Z" fill="#E3960C"/>
<path d="M995.4 703.8L1002.5 711.4L995.4 719.0L988.3 711.4Z" fill="#E3960C"/>
<path d="M1100.1 695.1L1107.2 702.7L1100.1 710.3L1093.0 702.7Z" fill="#E3960C"/>
<path d="M1204.9 684.8L1212.0 692.4L1204.9 700.0L1197.8 692.4Z" fill="#E3960C"/>
<path d="M1310.3 701.5L1317.4 709.1L1310.3 716.7L1303.2 709.1Z" fill="#E3960C"/>
<path d="M163.4 788.5V880.9M160.4 788.5h6.0M160.4 880.9h6.0M268.5 765.8V861.2M265.5 765.8h6.0M265.5 861.2h6.0M373.6 745.8V838.2M370.6 745.8h6.0M370.6 838.2h6.0M478.3 736.1V827.5M475.3 736.1h6.0M475.3 827.5h6.0M583.4 723.4V810.8M580.4 723.4h6.0M580.4 810.8h6.0M688.1 708.4V798.8M685.1 708.4h6.0M685.1 798.8h6.0M792.9 690.7V780.1M789.9 690.7h6.0M789.9 780.1h6.0M898.3 702.1V788.5M895.3 702.1h6.0M895.3 788.5h6.0M1003.1 686.7V773.4M1000.1 686.7h6.0M1000.1 773.4h6.0M1107.8 681.1V764.8M1104.8 681.1h6.0M1104.8 764.8h6.0M1212.5 677.4V761.1M1209.5 677.4h6.0M1209.5 761.1h6.0M1317.9 675.4V762.4M1314.9 675.4h6.0M1314.9 762.4h6.0" stroke="#213592" stroke-width="3.1" stroke-linecap="round" fill="none"/>
<polyline points="163.4,835.2 268.5,813.8 373.6,792.1 478.3,782.1 583.4,767.4 688.1,753.8 792.9,735.4 898.3,745.1 1003.1,730.4 1107.8,723.1 1212.5,719.1 1317.9,719.4" stroke="#213592" stroke-width="3.3" stroke-linejoin="round" fill="none"/>
<path d="M158.4 830.2L168.4 840.2M158.4 840.2L168.4 830.2" stroke="#213592" stroke-width="3.2" stroke-linecap="round" fill="none"/>
<path d="M263.5 808.8L273.5 818.8M263.5 818.8L273.5 808.8" stroke="#213592" stroke-width="3.2" stroke-linecap="round" fill="none"/>
<path d="M368.6 787.1L378.6 797.1M368.6 797.1L378.6 787.1" stroke="#213592" stroke-width="3.2" stroke-linecap="round" fill="none"/>
<path d="M473.3 777.1L483.3 787.1M473.3 787.1L483.3 777.1" stroke="#213592" stroke-width="3.2" stroke-linecap="round" fill="none"/>
<path d="M578.4 762.4L588.4 772.4M578.4 772.4L588.4 762.4" stroke="#213592" stroke-width="3.2" stroke-linecap="round" fill="none"/>
<path d="M683.1 748.8L693.1 758.8M683.1 758.8L693.1 748.8" stroke="#213592" stroke-width="3.2" stroke-linecap="round" fill="none"/>
<path d="M787.9 730.4L797.9 740.4M787.9 740.4L797.9 730.4" stroke="#213592" stroke-width="3.2" stroke-linecap="round" fill="none"/>
<path d="M893.3 740.1L903.3 750.1M893.3 750.1L903.3 740.1" stroke="#213592" stroke-width="3.2" stroke-linecap="round" fill="none"/>
<path d="M998.1 725.4L1008.1 735.4M998.1 735.4L1008.1 725.4" stroke="#213592" stroke-width="3.2" stroke-linecap="round" fill="none"/>
<path d="M1102.8 718.1L1112.8 728.1M1102.8 728.1L1112.8 718.1" stroke="#213592" stroke-width="3.2" stroke-linecap="round" fill="none"/>
<path d="M1207.5 714.1L1217.5 724.1M1207.5 724.1L1217.5 714.1" stroke="#213592" stroke-width="3.2" stroke-linecap="round" fill="none"/>
<path d="M1312.9 714.4L1322.9 724.4M1312.9 724.4L1322.9 714.4" stroke="#213592" stroke-width="3.2" stroke-linecap="round" fill="none"/>
<text x="1371.2" y="509.2" font-size="27.8" textLength="75.6" lengthAdjust="spacingAndGlyphs">group</text>
<path d="M1370 542.6H1396.8" stroke="#2A9DDC" stroke-width="3.2"/>
<circle cx="1383.3" cy="542.6" r="7.35" fill="#fff" stroke="#2A9DDC" stroke-width="3.0"/>
<text x="1401.7" y="546.3" font-size="27.8" textLength="98.7" lengthAdjust="spacingAndGlyphs">random</text>
<path d="M1370 576.2H1396.8" stroke="#21A63C" stroke-width="3.2"/>
<circle cx="1383.3" cy="576.2" r="7.4" fill="#21A63C"/>
<text x="1401.7" y="580.6" font-size="27.8" textLength="91.0" lengthAdjust="spacingAndGlyphs">parallel</text>
<path d="M1370 610.0H1396.8" stroke="#A01A17" stroke-width="3.2"/>
<rect x="1375.9" y="602.6" width="14.8" height="14.8" fill="#A01A17"/>
<text x="1401.7" y="614.0" font-size="27.8" textLength="130.3" lengthAdjust="spacingAndGlyphs">integrated</text>
<path d="M1370 642.9H1396.8" stroke="#E3960C" stroke-width="3.2"/>
<path d="M1383.3 635.3L1390.4 642.9L1383.3 650.5L1376.2 642.9Z" fill="#E3960C"/>
<text x="1401.7" y="647.5" font-size="27.8" textLength="97.5" lengthAdjust="spacingAndGlyphs">partial 1</text>
<path d="M1370 676.5H1396.8" stroke="#213592" stroke-width="3.2"/>
<path d="M1378.3 671.5L1388.3 681.5M1378.3 681.5L1388.3 671.5" stroke="#213592" stroke-width="3.2" stroke-linecap="round" fill="none"/>
<text x="1401.7" y="680.5" font-size="27.8" textLength="100.4" lengthAdjust="spacingAndGlyphs">partial 2</text>
</svg>
</body></html>
